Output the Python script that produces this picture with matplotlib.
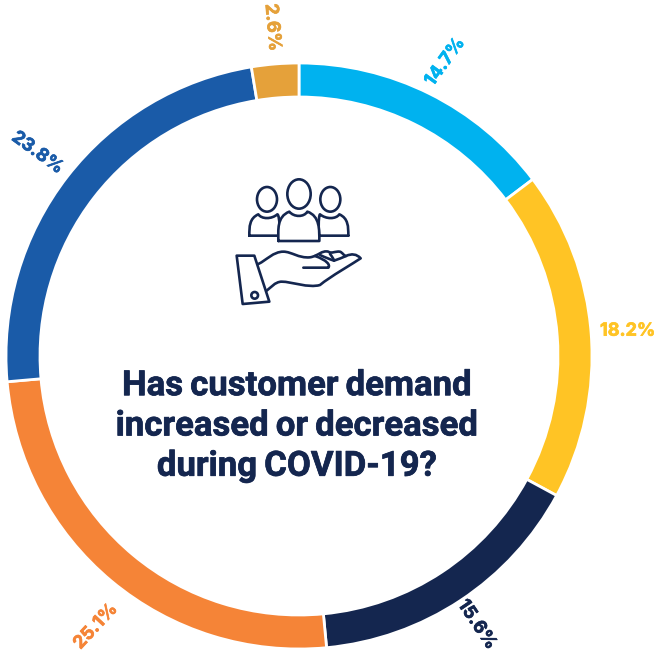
import numpy as np
import matplotlib
matplotlib.use('Agg')
import matplotlib.pyplot as plt
import matplotlib.patheffects as pe
from matplotlib.path import Path
from matplotlib.patches import PathPatch, Ellipse, Circle

# share of answers, clockwise from the top
values = [14.7, 18.2, 15.6, 25.1, 23.8, 2.6]
labels = ['14.7%', '18.2%', '15.6%', '25.1%', '23.8%', '2.6%']
colors = ['#00B2EF', '#FFC425', '#14264F', '#F58437', '#1A5BA8', '#E5A13A']
# labels are turned by hand to run along the radius
label_rot = [54, 0, -56, 47, -36, -85]
label_dist = [1.12, 1.125, 1.1, 1.155, 1.13, 1.125]
label_turn = [0, 0, 0, 2.9, 0, 0]
# thin spaces: the words sit close together in this title
title = 'Has\u2009customer\u2009demand\nincreased\u2009or\u2009decreased\nduring\u2009COVID-19?'

navy = '#14264F'
W, H = 657, 653
cx, cy, radius = 299, H - 356, 293

fig = plt.figure(figsize=(W / 100, H / 100), dpi=100)
ax = fig.add_axes([0, 0, 1, 1])

wedges, _ = ax.pie(values, colors=colors, startangle=90, counterclock=False,
                   center=(cx, cy), radius=radius,
                   wedgeprops={'width': 34, 'edgecolor': 'white', 'linewidth': 2})
ax.set_xlim(0, W)
ax.set_ylim(0, H)
ax.set_aspect('equal')
ax.axis('off')

# Percent labels outside the ring
for w, txt, rot, dist, turn in zip(wedges, labels, label_rot, label_dist, label_turn):
    mid = np.deg2rad((w.theta1 + w.theta2) / 2 + turn)
    c = w.get_facecolor()
    ax.text(cx + radius * dist * np.cos(mid), cy + radius * dist * np.sin(mid), txt,
            color=c, rotation=rot, rotation_mode='anchor',
            ha='center', va='center', fontsize=13, fontweight='bold',
            family='Inter', path_effects=[pe.withStroke(linewidth=0.5, foreground=c)])

ax.text(297, H - 426, title, color=navy, ha='center', va='center', fontsize=25,
        fontweight='bold', family=['Roboto', 'DejaVu Sans'], linespacing=1.28,
        path_effects=[pe.withStroke(linewidth=0.5, foreground=navy)])


# Icon
def pt(zx, zy):
    return 220 + zx / 3, H - (170 + zy / 3)


def curve(points, closed=False, fill='none'):
    # first point moves, then triples of bezier points
    verts = [pt(*p) for p in points]
    codes = [Path.MOVETO] + [Path.CURVE4] * (len(verts) - 1)
    if closed:
        verts.append(verts[0])
        codes.append(Path.LINETO)
    ax.add_patch(PathPatch(Path(verts, codes), facecolor=fill, edgecolor=navy,
                           linewidth=1.9, capstyle='round', joinstyle='round'))


def line(points, closed=False):
    verts = [pt(*p) for p in points]
    ax.add_patch(plt.Polygon(verts, closed=closed, fill=False, edgecolor=navy,
                             linewidth=1.9, joinstyle='round'))


for zx, zy, zrx, zry in [(141, 88, 30, 37), (331, 88, 30, 37), (237, 72, 35, 44)]:
    x, y = pt(zx, zy)
    ax.add_patch(Ellipse((x, y), zrx * 2 / 3, zry * 2 / 3, fill=False, edgecolor=navy, linewidth=1.9))

# shoulders of the side figures, then the front one over them
curve([(88, 197), (88, 170), (88, 145), (115, 133), (125, 148), (155, 148), (172, 133),
       (180, 135), (180, 197), (175, 197), (140, 197), (110, 197), (88, 197)])
curve([(385, 197), (385, 170), (385, 145), (358, 133), (348, 148), (318, 148), (300, 133),
       (295, 135), (295, 197), (298, 197), (330, 197), (360, 197), (385, 197)])
curve([(175, 213), (175, 180), (170, 140), (208, 125), (222, 142), (252, 142), (262, 125),
       (300, 138), (298, 180), (298, 213), (260, 213), (215, 213), (175, 213)], fill='white')

# cuff and hand
line([(50, 257), (103, 257), (148, 395), (68, 402)], closed=True)
x, y = pt(104, 376)
ax.add_patch(Circle((x, y), 10 / 3, fill=False, edgecolor=navy, linewidth=1.9))
curve([(115, 282), (140, 270), (160, 245), (190, 245), (215, 245), (235, 265), (270, 262),
       (295, 258), (305, 240), (325, 245), (335, 252), (345, 243), (360, 245),
       (368, 248), (372, 258), (378, 258), (395, 250), (410, 252), (422, 265),
       (400, 280), (330, 320), (300, 345), (265, 355), (215, 335), (185, 335),
       (165, 335), (150, 355), (140, 362)])
curve([(250, 293), (275, 293), (300, 293), (325, 293), (332, 285), (320, 270), (285, 258)])
curve([(300, 255), (315, 262), (330, 268), (342, 272), (355, 268), (368, 262), (378, 258)])
curve([(330, 252), (335, 258), (340, 265), (342, 272), (342, 272), (342, 272), (342, 272)])

fig.savefig('out.png', dpi=100, facecolor='white')
